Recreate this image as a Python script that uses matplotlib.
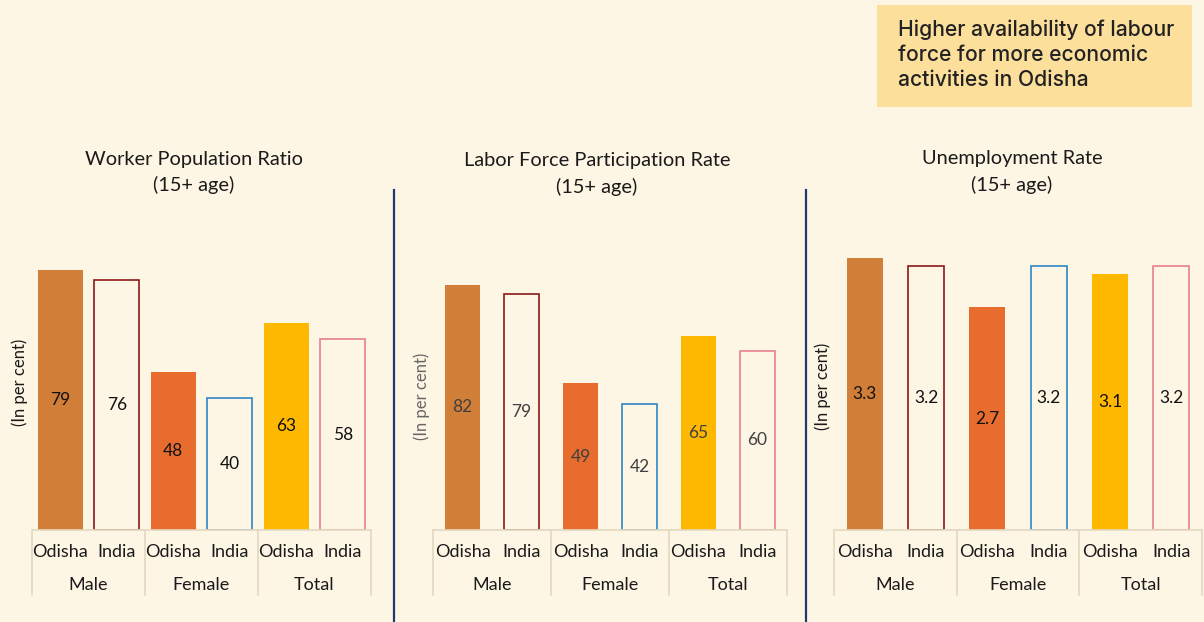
import matplotlib
matplotlib.use("Agg")
import matplotlib.pyplot as plt
from matplotlib.patches import Rectangle
from matplotlib.lines import Line2D

plt.rcParams['font.family'] = ['Lato', 'DejaVu Sans']

# ---------------- data ----------------
groups = ["Male", "Female", "Total"]
regions = ["Odisha", "India"]
titles = ["Worker Population Ratio\n(15+ age)",
          "Labor Force Participation Rate\n(15+ age)",
          "Unemployment Rate\n(15+ age)"]
wpr_values = [79, 76, 48, 40, 63, 58]
lfpr_values = [82, 79, 49, 42, 65, 60]
ur_values = [3.3, 3.2, 2.7, 3.2, 3.1, 3.2]
value_labels = [["79", "76", "48", "40", "63", "58"],
                ["82", "79", "49", "42", "65", "60"],
                ["3.3", "3.2", "2.7", "3.2", "3.1", "3.2"]]
note_text = "Higher availability of labour\nforce for more economic\nactivities in Odisha"
ylabel = "(In per cent)"

# ---------------- style ----------------
W, H = 1204, 622
BG = "#FEF6E5"
fill_colors = ["#D07E38", None, "#E86C2D", None, "#FFB800", None]
edge_colors = ["#D07E38", "#8B1A1A", "#E86C2D", "#2E86C1", "#FFB800", "#E8808C"]
box_line = "#E3D9C2"

fig = plt.figure(figsize=(W / 100, H / 100), dpi=100, facecolor=BG)

panels = [
    dict(x0=32, x1=371, scale=3.29, bw=0.8, vals=wpr_values, tcx=194, ty=172.5,
         ylx=20, yly=382, ylc="#1a1a1a", vc="#111111"),
    dict(x0=433, x1=787, scale=2.99, bw=0.6, vals=lfpr_values, tcx=597, ty=174,
         ylx=422, yly=396, ylc="#666666", vc="#404040"),
    dict(x0=834, x1=1202, scale=82.5, bw=0.59, vals=ur_values, tcx=1012, ty=172,
         ylx=823, yly=386, ylc="#1a1a1a", vc="#111111"),
]
base_px = 530
top_px = 250

for i, p in enumerate(panels):
    ax = fig.add_axes([p["x0"] / W, 1 - base_px / H, (p["x1"] - p["x0"]) / W,
                       (base_px - top_px) / H])
    ax.set_facecolor("none")
    xs = list(range(6))
    for x, v, fc, ec in zip(xs, p["vals"], fill_colors, edge_colors):
        if fc is None:
            ax.bar(x, v, width=p["bw"], facecolor=BG, edgecolor=ec, linewidth=1.2)
        else:
            ax.bar(x, v, width=p["bw"], facecolor=fc, edgecolor="none")
    for x, v, lab in zip(xs, p["vals"], value_labels[i]):
        ax.text(x, v / 2, lab, ha="center", va="center", fontsize=12.5, color=p["vc"])
    ax.set_xlim(-0.5, 5.5)
    ax.set_ylim(0, (base_px - top_px) / p["scale"])
    ax.axis("off")

    axh = base_px - top_px
    tr = ax.get_xaxis_transform()
    ax.add_line(Line2D([-0.5, 5.5], [0, 0], transform=tr, color=box_line, lw=1.2,
                       clip_on=False))
    for sx in [-0.5, 1.5, 3.5, 5.5]:
        ax.add_line(Line2D([sx, sx], [0, -65 / axh], transform=tr, color=box_line,
                           lw=1.2, clip_on=False))
    for x in xs:
        ax.text(x, -22 / axh, regions[x % 2], transform=tr, ha="center", va="center",
                fontsize=13, color="#1a1a1a", clip_on=False)
    for g, gname in enumerate(groups):
        ax.text(2 * g + 0.5, -55 / axh, gname, transform=tr, ha="center", va="center",
                fontsize=13, color="#1a1a1a", clip_on=False)

    fig.text(p["tcx"] / W, 1 - p["ty"] / H, titles[i], ha="center", va="center",
             fontsize=14.4, color="#1a1a1a", linespacing=1.55)
    fig.text(p["ylx"] / W, 1 - p["yly"] / H, ylabel, ha="center", va="center",
             rotation=90, fontsize=12, color=p["ylc"])

for dx in [394, 806]:
    fig.add_artist(Line2D([dx / W, dx / W], [0, 1 - 190 / H], color="#1F3A6E", lw=1.6))

fig.add_artist(Rectangle((877 / W, 1 - 107 / H), (1192 - 877) / W, (107 - 5) / H,
                         transform=fig.transFigure, facecolor="#FDDF9C", edgecolor="none"))
fig.text(898 / W, 1 - 55 / H, note_text, ha="left", va="center", fontsize=15.2,
         color="#222222", family=["Inter", "DejaVu Sans"], linespacing=1.3,
         fontweight="medium")

fig.savefig("out.png", dpi=100, facecolor=BG)
